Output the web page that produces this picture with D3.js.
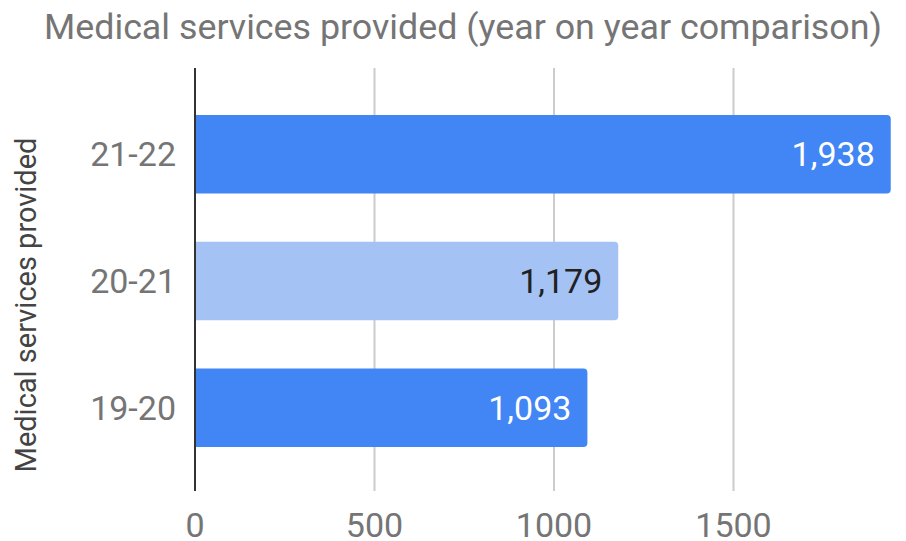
<!DOCTYPE html>
<html><head><meta charset="utf-8">
<script src="https://cdn.jsdelivr.net/npm/d3@7"></script>
<style>body{margin:0;background:#fff}svg{display:block}text{font-family:Roboto,Arial,sans-serif}</style>
</head><body><svg id="c" width="906" height="541"></svg>
<script>
const categories = ["21-22", "20-21", "19-20"];
const values = [1938, 1179, 1093];
const barColors = ["#4285F4", "#A4C2F4", "#4285F4"];
const labelColors = ["#ffffff", "#212121", "#ffffff"];
const xTicks = [0, 500, 1000, 1500];
const title = "Medical services provided (year on year comparison)";
const yTitle = "Medical services provided";

const svg = d3.select("#c");
const x = d3.scaleLinear().domain([0, 1500]).range([195, 733.5]);
const y = d3.scaleBand().domain(categories).range([91, 471]).paddingInner(0.38).paddingOuter(0.19);
const gridTop = 68, gridBottom = 491;

// grid
svg.append("g").selectAll("line").data(xTicks.filter(d => d > 0)).join("line")
  .attr("x1", d => x(d)).attr("x2", d => x(d)).attr("y1", gridTop).attr("y2", gridBottom)
  .attr("stroke", "#cccccc").attr("stroke-width", 2);

// bars with rounded right corners
const r = 4;
svg.append("g").selectAll("path").data(values).join("path")
  .attr("d", (d, i) => {
    const x0 = x(0), x1 = x(d), y0 = y(categories[i]), h = y.bandwidth();
    return `M${x0},${y0}H${x1 - r}Q${x1},${y0} ${x1},${y0 + r}V${y0 + h - r}Q${x1},${y0 + h} ${x1 - r},${y0 + h}H${x0}Z`;
  })
  .attr("fill", (d, i) => barColors[i]);

// zero axis
svg.append("line").attr("x1", x(0)).attr("x2", x(0)).attr("y1", gridTop).attr("y2", gridBottom)
  .attr("stroke", "#333333").attr("stroke-width", 2);

// value labels
svg.append("g").selectAll("text").data(values).join("text")
  .attr("x", d => x(d) - 16)
  .attr("y", (d, i) => y(categories[i]) + y.bandwidth() / 2)
  .attr("dy", "0.355em").attr("text-anchor", "end")
  .attr("font-size", 34).attr("fill", (d, i) => labelColors[i])
  .text(d => d3.format(",")(d));

// y tick labels
svg.append("g").selectAll("text").data(categories).join("text")
  .attr("x", 176).attr("y", d => y(d) + y.bandwidth() / 2).attr("dy", "0.355em")
  .attr("text-anchor", "end").attr("font-size", 34).attr("fill", "#757575").text(d => d);

// x tick labels
svg.append("g").selectAll("text").data(xTicks).join("text")
  .attr("x", d => x(d)).attr("y", 537).attr("text-anchor", "middle")
  .attr("font-size", 34).attr("fill", "#757575").text(d => d);

// title
svg.append("text").attr("x", 463).attr("y", 39).attr("text-anchor", "middle")
  .attr("font-size", 35.8).attr("fill", "#757575").text(title);

// y axis title
svg.append("text").attr("transform", "translate(36,305) rotate(-90)").attr("text-anchor", "middle")
  .attr("font-size", 29).attr("fill", "#444444").text(yTitle);
</script></body></html>
